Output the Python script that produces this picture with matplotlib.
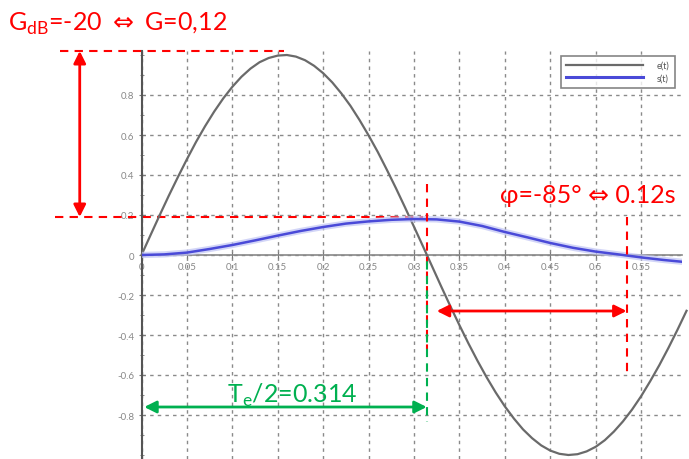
import matplotlib.pyplot as plt
from matplotlib.ticker import MultipleLocator

# Données
t = [0.00, 0.01, 0.02, 0.03, 0.04, 0.05, 0.06, 0.07, 0.08, 0.09,
     0.10, 0.11, 0.12, 0.13, 0.14, 0.15, 0.16, 0.17, 0.18, 0.19,
     0.20, 0.21, 0.22, 0.23, 0.24, 0.25, 0.26, 0.27, 0.28, 0.29,
     0.30, 0.31, 0.32, 0.33, 0.34, 0.35, 0.36, 0.37, 0.38, 0.39,
     0.40, 0.41, 0.42, 0.43, 0.44, 0.45, 0.46, 0.47, 0.48, 0.49,
     0.50, 0.51, 0.52, 0.53, 0.54, 0.55, 0.56, 0.57, 0.58, 0.59, 0.60]
e = [0.000, 0.100, 0.199, 0.296, 0.389, 0.479, 0.565, 0.644, 0.717, 0.783,
     0.841, 0.891, 0.932, 0.964, 0.985, 0.997, 1.000, 0.992, 0.974, 0.946,
     0.909, 0.863, 0.808, 0.746, 0.675, 0.598, 0.516, 0.427, 0.335, 0.239,
     0.141, 0.042, -0.058, -0.158, -0.256, -0.351, -0.443, -0.530, -0.612, -0.688,
     -0.757, -0.818, -0.872, -0.916, -0.952, -0.978, -0.994, -1.000, -0.996, -0.982,
     -0.959, -0.926, -0.883, -0.832, -0.773, -0.706, -0.631, -0.551, -0.465, -0.374, -0.279]

t_s = [0.000, 0.025, 0.050, 0.075, 0.100, 0.125, 0.150, 0.175, 0.200, 0.225,
       0.250, 0.275, 0.300, 0.325, 0.350, 0.375, 0.400, 0.425, 0.450, 0.475,
       0.500, 0.525, 0.550, 0.575, 0.600]
s = [0.000, 0.003, 0.012, 0.030, 0.050, 0.073, 0.097, 0.120, 0.140, 0.157,
     0.168, 0.176, 0.180, 0.178, 0.167, 0.145, 0.115, 0.088, 0.060, 0.036,
     0.017, 0.003, -0.012, -0.025, -0.036]

x_ticks = [0, 0.05, 0.1, 0.15, 0.2, 0.25, 0.3, 0.35, 0.4, 0.45, 0.5, 0.55]
x_labels = ["0", "0.05", "0.1", "0.15", "0.2", "0.25", "0.3", "0.35", "0.4", "0.45", "0.5", "0.55"]
y_ticks = [-0.8, -0.6, -0.4, -0.2, 0, 0.2, 0.4, 0.6, 0.8]
y_labels = ["-0.8", "-0.6", "-0.4", "-0.2", "0", "0.2", "0.4", "0.6", "0.8"]

e_max = 1.02      # sommet de e(t) (trait pointillé)
s_max = 0.19      # sommet de s(t)
t_half = 0.314    # Te/2
t_s_zero = 0.534  # passage à zéro de s(t)

plt.rcParams['font.family'] = ['Lato', 'DejaVu Sans']
RED = '#ff0000'
GREEN = '#00b050'

fig = plt.figure(figsize=(6.89, 4.60), dpi=100)
ax = fig.add_axes([141.5 / 689, 0.0, (682 - 141.5) / 689, (460 - 52) / 460])
ax.set_xlim(0, 0.595)
ax.set_ylim(-1.02, 1.02)

# Axes passant par l'origine
for side in ['top', 'right']:
    ax.spines[side].set_visible(False)
ax.spines['bottom'].set_position(('data', 0))
ax.spines['left'].set_position(('data', 0))
ax.spines['bottom'].set_color('#888888')
ax.spines['left'].set_color('#555555')
ax.spines['bottom'].set_linewidth(1.2)
ax.spines['left'].set_linewidth(1.5)

ax.set_xticks(x_ticks)
ax.set_xticklabels(x_labels)
ax.set_yticks(y_ticks)
ax.set_yticklabels(y_labels)
ax.yaxis.set_minor_locator(MultipleLocator(0.1))
ax.tick_params(axis='both', which='both', direction='inout', colors='#777777',
               labelsize=7, labelcolor='#888888', length=4, pad=3)
ax.tick_params(axis='y', which='minor', length=3)
ax.grid(True, color='#8a8a8a', linestyle=(0, (2.5, 3)), linewidth=1.0)

# Courbes
ax.plot(t, e, color='#6a6a6a', lw=1.6, label='e(t)', clip_on=False, zorder=3)
ax.plot(t_s, s, color='#c0c4f4', lw=4.5, alpha=0.7, zorder=3)
ax.plot(t_s, s, color='#4a4ad8', lw=1.8, label='s(t)', zorder=4)

leg = ax.legend(loc='upper right', bbox_to_anchor=(0.995, 1.0), fontsize=6.5,
                frameon=True, fancybox=False, edgecolor='#666666',
                handlelength=8.5, borderpad=0.6, labelspacing=0.4, handletextpad=1.5)
leg.get_frame().set_linewidth(1.2)
for txt in leg.get_texts():
    txt.set_color('#555555')
leg.legend_handles[1].set_linewidth(2.2)

# Annotations gain
ax.plot([-0.09, 0.157], [e_max, e_max], color=RED, lw=1.5, ls=(0, (4, 3)), clip_on=False)
ax.plot([-0.095, 0.31], [s_max, s_max], color=RED, lw=1.5, ls=(0, (4, 3)), clip_on=False)
ax.annotate('', xy=(-0.068, e_max), xytext=(-0.068, s_max),
            arrowprops=dict(arrowstyle='<|-|>', color=RED, lw=2, mutation_scale=18,
                            shrinkA=0, shrinkB=0), annotation_clip=False)
ax.text(-0.147, 1.125, r'G$_{\mathregular{dB}}$=-20 $\Leftrightarrow$ G=0,12', color=RED,
        fontsize=18, va='baseline', ha='left', clip_on=False)

# Annotations déphasage
ax.plot([t_half, t_half], [0.355, -0.47], color=RED, lw=1.5, ls=(0, (4, 3)), zorder=5)
ax.plot([t_half, t_half], [0, -0.835], color=GREEN, lw=1.5, ls=(4, (4, 3)), zorder=5)
ax.plot([t_s_zero, t_s_zero], [s_max, -0.61], color=RED, lw=1.5, ls=(0, (4, 3)), zorder=5)
ax.annotate('', xy=(0.325, -0.28), xytext=(t_s_zero, -0.28),
            arrowprops=dict(arrowstyle='<|-|>', color=RED, lw=2, mutation_scale=18,
                            shrinkA=0, shrinkB=0))
ax.text(0.395, 0.265, 'φ=-85° ⇔ 0.12s', color=RED, fontsize=18,
        va='baseline', ha='left', clip_on=False)

# Demi-période
ax.annotate('', xy=(0.003, -0.76), xytext=(t_half, -0.76),
            arrowprops=dict(arrowstyle='<|-|>', color=GREEN, lw=2, mutation_scale=18,
                            shrinkA=0, shrinkB=0))
ax.text(0.094, -0.735, r'T$_{\mathregular{e}}$/2=0.314', color=GREEN, fontsize=18,
        va='baseline', ha='left')

fig.savefig('out.png', dpi=100)
